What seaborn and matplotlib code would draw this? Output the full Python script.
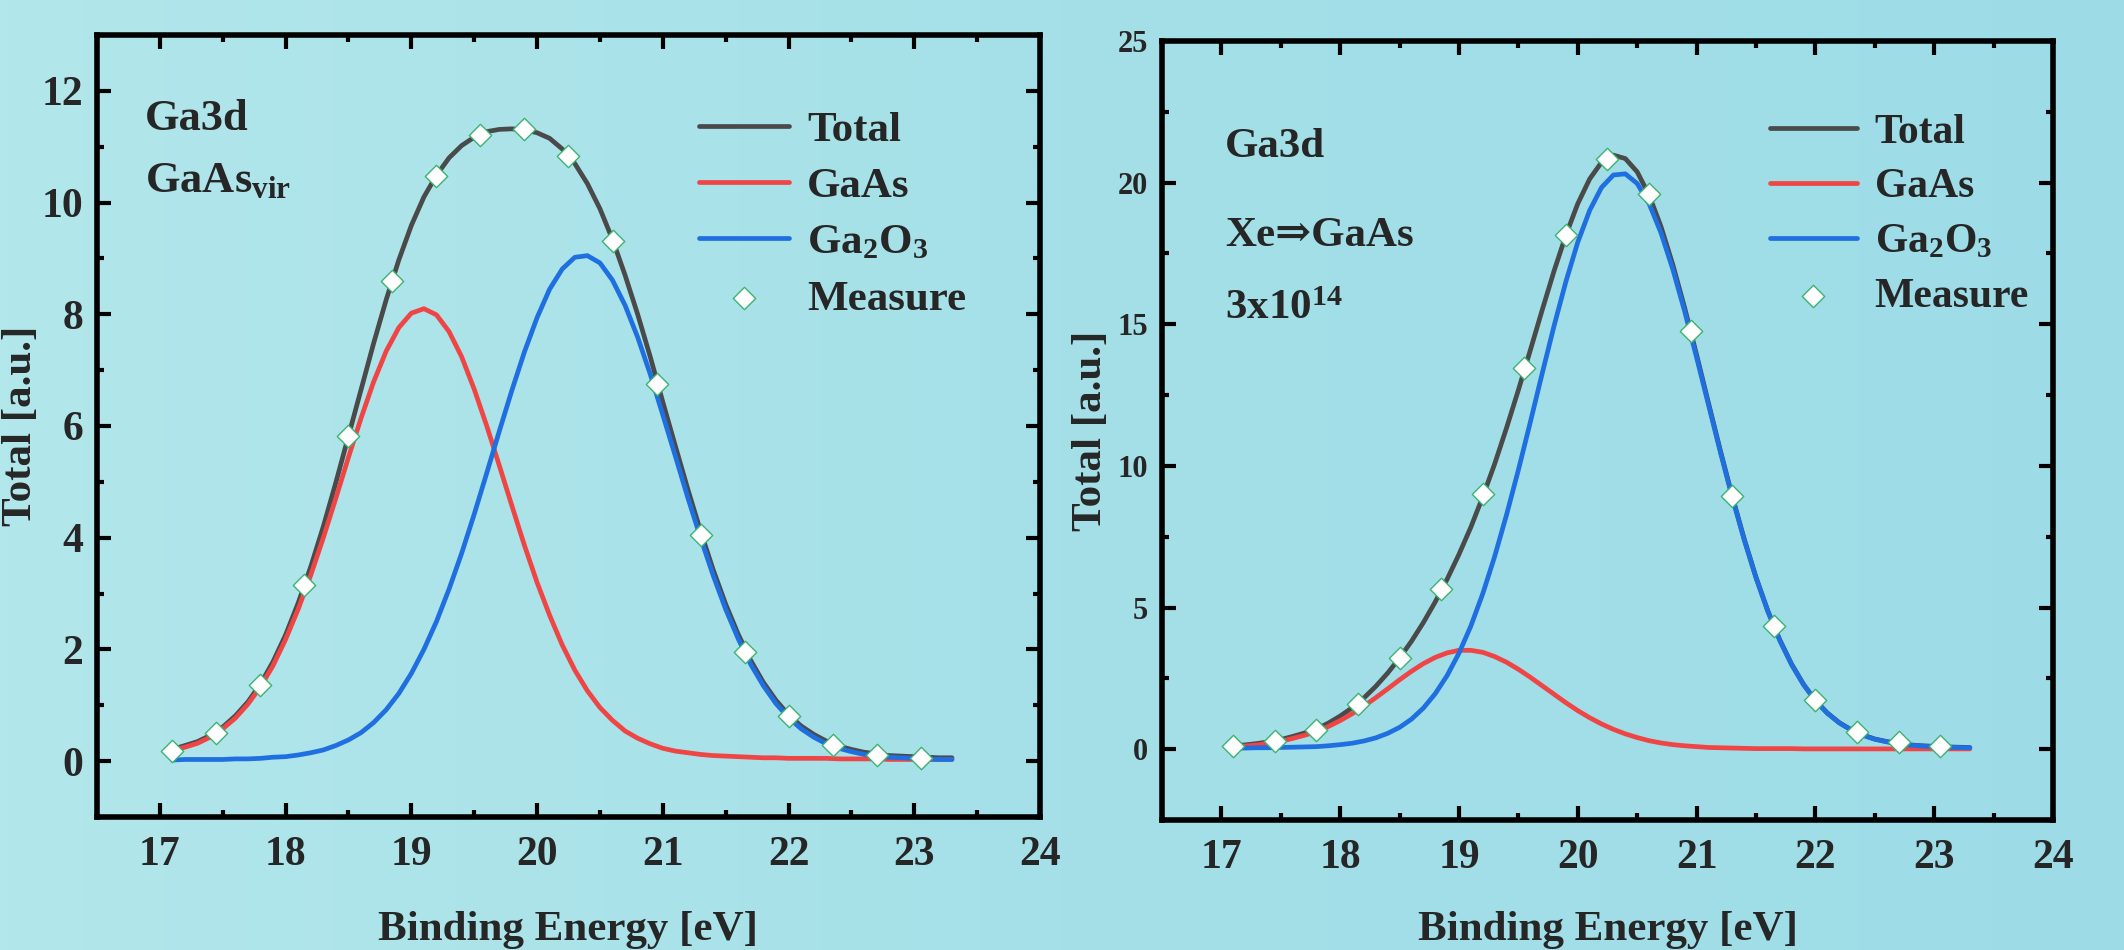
import numpy as np
import matplotlib
matplotlib.use("Agg")
import matplotlib.pyplot as plt
import seaborn as sns
from matplotlib.ticker import MultipleLocator
from matplotlib.colors import LinearSegmentedColormap

# ---------------- data ----------------
curve_x = [17.1, 17.2, 17.3, 17.4, 17.5, 17.6, 17.7, 17.8, 17.9,
           18.0, 18.1, 18.2, 18.3, 18.4, 18.5, 18.6, 18.7, 18.8, 18.9,
           19.0, 19.1, 19.2, 19.3, 19.4, 19.5, 19.6, 19.7, 19.8, 19.9,
           20.0, 20.1, 20.2, 20.3, 20.4, 20.5, 20.6, 20.7, 20.8, 20.9,
           21.0, 21.1, 21.2, 21.3, 21.4, 21.5, 21.6, 21.7, 21.8, 21.9,
           22.0, 22.1, 22.2, 22.3, 22.4, 22.5, 22.6, 22.7, 22.8, 22.9,
           23.0, 23.1, 23.2, 23.3]

measure_x = [17.1, 17.45, 17.8, 18.15, 18.5, 18.85, 19.2, 19.55, 19.9,
             20.25, 20.6, 20.95, 21.3, 21.65, 22.0, 22.35, 22.7, 23.05]

# left panel: GaAs (virgin)
left_total = [0.21, 0.28, 0.35, 0.46, 0.61, 0.81, 1.06, 1.38, 1.78,
              2.26, 2.83, 3.48, 4.20, 4.99, 5.82, 6.65, 7.48, 8.26, 8.97,
              9.59, 10.10, 10.49, 10.80, 11.02, 11.17, 11.27, 11.31, 11.32, 11.30,
              11.25, 11.15, 10.96, 10.70, 10.34, 9.89, 9.34, 8.70, 8.00, 7.24,
              6.43, 5.64, 4.86, 4.12, 3.43, 2.81, 2.27, 1.80, 1.41, 1.09,
              0.83, 0.63, 0.48, 0.36, 0.27, 0.21, 0.16, 0.13, 0.10, 0.09,
              0.08, 0.07, 0.06, 0.06]
left_gaas = [0.19, 0.25, 0.32, 0.43, 0.58, 0.77, 1.02, 1.33, 1.71,
             2.18, 2.72, 3.33, 4.00, 4.71, 5.44, 6.14, 6.79, 7.34, 7.76,
             8.02, 8.10, 7.99, 7.69, 7.24, 6.66, 6.00, 5.29, 4.57, 3.86,
             3.20, 2.61, 2.08, 1.63, 1.26, 0.96, 0.73, 0.54, 0.41, 0.31,
             0.23, 0.18, 0.15, 0.12, 0.10, 0.09, 0.08, 0.07, 0.06, 0.06,
             0.05, 0.05, 0.05, 0.05, 0.04, 0.04, 0.04, 0.04, 0.03, 0.03,
             0.03, 0.03, 0.03, 0.03]
left_ga2o3 = [0.02, 0.03, 0.03, 0.03, 0.03, 0.04, 0.04, 0.05, 0.07,
              0.08, 0.11, 0.15, 0.20, 0.28, 0.38, 0.51, 0.69, 0.92, 1.21,
              1.57, 2.00, 2.50, 3.08, 3.72, 4.42, 5.16, 5.91, 6.64, 7.33,
              7.94, 8.45, 8.81, 9.02, 9.05, 8.92, 8.61, 8.16, 7.59, 6.93,
              6.20, 5.46, 4.71, 4.00, 3.33, 2.72, 2.19, 1.73, 1.35, 1.03,
              0.78, 0.58, 0.43, 0.31, 0.23, 0.17, 0.12, 0.09, 0.07, 0.06,
              0.05, 0.04, 0.03, 0.03]
left_measure = [0.18, 0.51, 1.37, 3.16, 5.82, 8.59, 10.48, 11.21, 11.31,
                10.84, 9.32, 6.76, 4.04, 1.96, 0.80, 0.29, 0.11, 0.06]

# right panel: Xe => GaAs, 3x10^14
right_total = [0.13, 0.15, 0.20, 0.26, 0.34, 0.45, 0.57, 0.71, 0.92,
               1.17, 1.46, 1.81, 2.22, 2.69, 3.22, 3.81, 4.47, 5.20, 6.00,
               6.88, 7.84, 8.91, 10.07, 11.34, 12.68, 14.08, 15.50, 16.88, 18.15,
               19.26, 20.13, 20.72, 20.97, 20.85, 20.38, 19.56, 18.45, 17.10, 15.57,
               13.92, 12.22, 10.54, 8.93, 7.43, 6.07, 4.88, 3.86, 3.00, 2.29,
               1.72, 1.28, 0.94, 0.69, 0.50, 0.36, 0.27, 0.20, 0.15, 0.12,
               0.10, 0.08, 0.07, 0.06]
right_gaas = [0.09, 0.11, 0.15, 0.21, 0.28, 0.38, 0.49, 0.62, 0.80,
              1.01, 1.25, 1.52, 1.82, 2.13, 2.45, 2.75, 3.02, 3.24, 3.40,
              3.49, 3.49, 3.42, 3.27, 3.07, 2.82, 2.54, 2.24, 1.94, 1.64,
              1.36, 1.11, 0.89, 0.70, 0.54, 0.41, 0.30, 0.22, 0.16, 0.12,
              0.09, 0.06, 0.05, 0.04, 0.03, 0.02, 0.02, 0.02, 0.02, 0.01,
              0.01, 0.01, 0.01, 0.01, 0.01, 0.01, 0.01, 0.01, 0.01, 0.01,
              0.01, 0.01, 0.01, 0.01]
right_ga2o3 = [0.04, 0.04, 0.05, 0.05, 0.06, 0.07, 0.08, 0.09, 0.12,
               0.16, 0.21, 0.29, 0.40, 0.56, 0.77, 1.06, 1.45, 1.96, 2.60,
               3.39, 4.35, 5.49, 6.80, 8.27, 9.86, 11.54, 13.26, 14.94, 16.51,
               17.90, 19.02, 19.83, 20.27, 20.31, 19.97, 19.26, 18.23, 16.94, 15.45,
               13.83, 12.16, 10.49, 8.89, 7.40, 6.05, 4.86, 3.84, 2.98, 2.28,
               1.71, 1.27, 0.93, 0.68, 0.49, 0.35, 0.26, 0.19, 0.14, 0.11,
               0.09, 0.07, 0.06, 0.05]
right_measure = [0.11, 0.30, 0.68, 1.60, 3.21, 5.64, 9.02, 13.46, 18.14,
                 20.85, 19.59, 14.76, 8.93, 4.34, 1.73, 0.60, 0.24, 0.11]

series_labels = ["Total", "GaAs", "Ga$_2$O$_3$", "Measure"]
x_label = "Binding Energy [eV]"
y_label = "Total [a.u.]"
left_notes = ["Ga3d", "GaAs$_{\\mathrm{vir}}$"]
right_notes = ["Ga3d", "Xe\u21d2GaAs", "3x10$^{14}$"]

# ---------------- style ----------------
sns.set_style("ticks")
plt.rcParams['font.family'] = ['Liberation Serif', 'DejaVu Serif']
plt.rcParams['font.weight'] = 'bold'
plt.rcParams['axes.labelweight'] = 'bold'
plt.rcParams['mathtext.fontset'] = 'custom'
plt.rcParams['mathtext.rm'] = 'Liberation Serif:bold'
plt.rcParams['mathtext.bf'] = 'Liberation Serif:bold'
plt.rcParams['mathtext.it'] = 'Liberation Serif:bold:italic'
plt.rcParams['mathtext.default'] = 'rm'

C_TOTAL = '#4A4A4A'
C_GAAS = '#F04545'
C_GA2O3 = '#1F6FE0'
C_EDGE = '#3CB371'

fig = plt.figure(figsize=(21.24, 9.5), dpi=100)
bg = fig.add_axes([0, 0, 1, 1], zorder=-10)
cmap = LinearSegmentedColormap.from_list('bg', ['#B2E7EB', '#A5E0E8', '#9DDCE7'])
bg.imshow(np.linspace(0, 1, 256).reshape(1, -1), aspect='auto', cmap=cmap,
          extent=[0, 1, 0, 1])
bg.axis('off')

W, H = 2124, 950
ax1 = fig.add_axes([97 / W, 1 - 817 / H, 943 / W, 782 / H])
ax2 = fig.add_axes([1162 / W, 1 - 820 / H, 891 / W, 779 / H])


def draw(ax, total, gaas, ga2o3, meas):
    sns.lineplot(x=curve_x, y=total, ax=ax, color=C_TOTAL, lw=3.4, label=series_labels[0], zorder=2)
    sns.lineplot(x=curve_x, y=gaas, ax=ax, color=C_GAAS, lw=3.4, label=series_labels[1], zorder=3)
    sns.lineplot(x=curve_x, y=ga2o3, ax=ax, color=C_GA2O3, lw=3.4, label=series_labels[2], zorder=4)
    sns.scatterplot(x=measure_x, y=meas, ax=ax, marker='D', s=130, color='white',
                    edgecolor=C_EDGE, linewidth=1.0, label=series_labels[3], zorder=5)


def style(ax, ylim, ymaj, ymin, ytick_size):
    ax.set_facecolor('none')
    ax.set_xlim(16.5, 24)
    ax.set_ylim(*ylim)
    for s in ax.spines.values():
        s.set_visible(True)
        s.set_linewidth(4)
        s.set_color('black')
    ax.xaxis.set_major_locator(MultipleLocator(1))
    ax.xaxis.set_minor_locator(MultipleLocator(0.5))
    ax.yaxis.set_major_locator(MultipleLocator(ymaj))
    ax.yaxis.set_minor_locator(MultipleLocator(ymin))
    ax.tick_params(which='both', direction='in', top=True, right=True,
                   width=3, color='black')
    ax.tick_params(which='major', length=10)
    ax.tick_params(which='minor', length=5)
    ax.tick_params(axis='x', which='major', labelsize=30, pad=14)
    ax.tick_params(axis='y', which='major', labelsize=ytick_size, pad=10)
    ax.set_xlabel(x_label, fontsize=31, fontweight='bold')
    ax.set_ylabel(y_label, fontsize=31, fontweight='bold')
    ax.xaxis.label.set_va('baseline')
    ax.yaxis.label.set_va('baseline')


draw(ax1, left_total, left_gaas, left_ga2o3, left_measure)
draw(ax2, right_total, right_gaas, right_ga2o3, right_measure)
style(ax1, (-1, 13), 2, 1, 30)
style(ax2, (-2.5, 25), 5, 2.5, 22)

ax1.xaxis.set_label_coords(0.5, (817 - 940) / 782)
ax2.xaxis.set_label_coords(0.5, (820 - 940) / 779)
ax1.yaxis.set_label_coords((31 - 97) / 943, 0.5)
ax2.yaxis.set_label_coords((1101 - 1162) / 891, 0.5)

for ax, anchor, fs in ((ax1, (0.638, 0.9035), 31), (ax2, (0.682, 0.907), 30)):
    ax.legend(loc='upper left', bbox_to_anchor=anchor, frameon=False, fontsize=fs,
              handlelength=2.1, handletextpad=0.42, labelspacing=0.4,
              borderpad=0, borderaxespad=0)

# annotations
ax1.text((145 - 97) / 943, (817 - 130) / 782, left_notes[0], transform=ax1.transAxes,
         fontsize=32, fontweight='bold', va='baseline', ha='left')
ax1.text((145 - 97) / 943, (817 - 192) / 782, left_notes[1], transform=ax1.transAxes,
         fontsize=32, fontweight='bold', va='baseline', ha='left')
for txt, yb in zip(right_notes, (157, 246, 319)):
    ax2.text((1225 - 1162) / 891, (820 - yb) / 779, txt, transform=ax2.transAxes,
             fontsize=31, fontweight='bold', va='baseline', ha='left')

fig.savefig('out.png', dpi=100)
